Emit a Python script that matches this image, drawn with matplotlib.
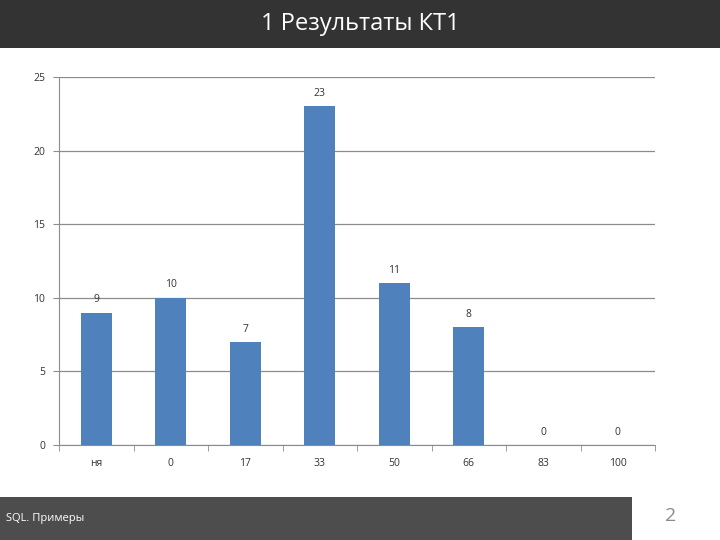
import matplotlib
matplotlib.use("Agg")
import matplotlib.pyplot as plt
import numpy as np

plt.rcParams['font.family'] = ['Open Sans', 'DejaVu Sans']

categories = ["ня", "0", "17", "33", "50", "66", "83", "100"]
values = [9, 10, 7, 23, 11, 8, 0, 0]
yticks = [0, 5, 10, 15, 20, 25]
title = "1 Результаты КТ1"
footer = "SQL. Примеры"
page = "2"

W, H = 720, 540
fig = plt.figure(figsize=(7.2, 5.4), dpi=100)
fig.patch.set_facecolor('white')

# title bar
fig.patches.append(plt.Rectangle((0, 1 - 48 / H), 1, 48 / H, transform=fig.transFigure,
                                 facecolor='#333333', edgecolor='none', zorder=0))
fig.text(0.5, 1 - 24 / H, title, color='white', fontsize=17, ha='center', va='center')

# footer bar
fig.patches.append(plt.Rectangle((0, 0), 632 / W, 43 / H, transform=fig.transFigure,
                                 facecolor='#4d4d4d', edgecolor='none', zorder=0))
fig.text(6 / W, 21 / H, footer, color='white', fontsize=8, ha='left', va='center')
fig.text(671 / W, 24 / H, page, color='#8c8c8c', fontsize=14, ha='center', va='center')

left, right, top, bottom = 59, 655, 77, 445
ax = fig.add_axes([left / W, 1 - bottom / H, (right - left) / W, (bottom - top) / H])
x = np.arange(len(categories))
ax.bar(x, values, width=0.41, color='#4F81BD', zorder=3)
for xi, v in zip(x, values):
    ax.text(xi, v + 0.5, str(v), ha='center', va='bottom', fontsize=7.5, color='#333333', zorder=4)

ax.set_xlim(-0.5, len(categories) - 0.5)
ax.set_ylim(0, 25)
ax.set_yticks(yticks)
ax.set_yticklabels([str(t) for t in yticks], fontsize=7.5, color='#333333')
ax.yaxis.grid(True, color='#8c8c8c', linewidth=0.9, zorder=0)
ax.set_xticks(x)
ax.set_xticklabels(categories, fontsize=7.5, color='#333333')
ax.tick_params(axis='x', length=0, pad=9)
ax.set_xticks(np.arange(-0.5, len(categories) + 0.5, 1), minor=True)
ax.tick_params(axis='x', which='minor', length=4, color='#8c8c8c', direction='out')
ax.tick_params(axis='y', length=4, color='#8c8c8c', pad=6)
for s in ['top', 'right']:
    ax.spines[s].set_visible(False)
ax.spines['left'].set_color('#8c8c8c')
ax.spines['bottom'].set_color('#8c8c8c')
ax.set_facecolor('white')

fig.savefig("out.png", dpi=100)
